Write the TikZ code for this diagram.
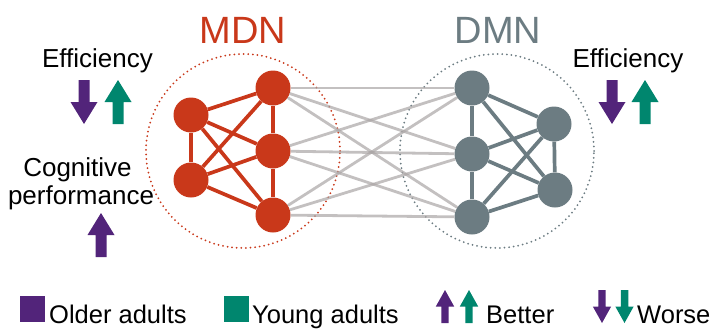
\documentclass[tikz,border=0pt]{standalone}
\usepackage{fontspec}
\setmainfont{Liberation Sans}
\usetikzlibrary{positioning}

\definecolor{mdnred}{RGB}{201,56,26}
\definecolor{dmngray}{RGB}{108,124,130}
\definecolor{oldpurple}{RGB}{82,36,122}
\definecolor{younggreen}{RGB}{0,134,110}
\definecolor{linkgray}{RGB}{170,165,165}

\tikzset{
  bigarrow/.pic={
    \fill (0,0) -- (13.5,22) -- (5.5,22) -- (5.5,44) -- (-5.5,44) -- (-5.5,22) -- (-13.5,22) -- cycle;
  }
}

\begin{document}
\begin{tikzpicture}[x=1pt,y=-1pt]
    \tikzstyle{region}=[circle,minimum size=35pt,inner sep=0pt]
    \tikzstyle{mdn node}=[region,fill=mdnred]
    \tikzstyle{dmn node}=[region,fill=dmngray]
    \tikzstyle{mdn edge}=[draw=mdnred,line width=3.7pt]
    \tikzstyle{dmn edge}=[draw=dmngray,line width=3.7pt]
    \tikzstyle{link}=[draw=linkgray,line width=2.8pt,draw opacity=0.7]
    \tikzstyle{hull}=[circle,minimum size=194pt,inner sep=0pt,line width=2pt,line cap=round,dash pattern=on 0pt off 4.6pt]
    \tikzstyle{annot}=[font=\fontsize{26}{29}\selectfont,inner sep=0pt,anchor=base]
    \tikzstyle{legend}=[font=\fontsize{25.5}{29}\selectfont,inner sep=0pt,anchor=base west]
    \tikzstyle{title}=[font=\fontsize{38}{40}\selectfont,inner sep=0pt,anchor=base]

    \useasboundingbox (0,0) rectangle (714,332);

    % Network outlines and titles
    \node[hull,draw=mdnred] (mdnhull) at (243,151) {};
    \node[hull,draw=dmngray] (dmnhull) at (497,151) {};
    \node[title,mdnred] (mdntitle) at (243,43.3) {MDN};
    \node[title,dmngray] (dmntitle) at (498,43.3) {DMN};

    % MDN nodes
    \foreach \name / \pos in {1/{(191,115)},2/{(273,88)},3/{(273,151)},4/{(191,180)},5/{(273,215)}}
        \node[mdn node] (m\name) at \pos {};

    % DMN nodes
    \foreach \name / \pos in {1/{(472,88)},2/{(472,154)},3/{(472,217)},4/{(554,124)},5/{(555,190)}}
        \node[dmn node] (d\name) at \pos {};

    % Connections inside each network
    \foreach \a / \b in {1/2,1/3,1/4,1/5,2/3,2/4,3/4,3/5,4/5}
        \path[mdn edge] (m\a) -- (m\b);
    \foreach \a / \b in {1/2,2/3,1/4,1/5,2/4,2/5,3/4,3/5,4/5}
        \path[dmn edge] (d\a) -- (d\b);

    % Connections between the networks
    \foreach \source in {2,3,5}
        \foreach \dest in {1,2,3}
            \path[link] (m\source) -- (d\dest);

    % Side annotations
    \node[annot] (effleft) at (97.5,67.5) {Efficiency};
    \pic[oldpurple,rotate=180] at (84,124) {bigarrow};
    \pic[younggreen] at (118,80) {bigarrow};
    \node[annot] (cog) at (77.5,176) {Cognitive};
    \node[annot] (perf) at (81,204) {performance};
    \pic[oldpurple] at (101,213) {bigarrow};
    \node[annot] (effright) at (628,67.5) {Efficiency};
    \pic[oldpurple,rotate=180] at (612,124) {bigarrow};
    \pic[younggreen] at (645,80) {bigarrow};

    % Legend
    \fill[oldpurple] (20,296) rectangle (45,322);
    \node[legend] (older) at (49,323) {Older adults};
    \fill[younggreen] (224,296) rectangle (249,322);
    \node[legend] (young) at (252,323) {Young adults};
    \pic[oldpurple,xscale=0.68,yscale=0.75] at (445,290) {bigarrow};
    \pic[younggreen,xscale=0.68,yscale=0.75] at (469,290) {bigarrow};
    \node[legend] (better) at (486,323) {Better};
    \pic[oldpurple,xscale=0.68,yscale=0.75,rotate=180] at (602,323) {bigarrow};
    \pic[younggreen,xscale=0.68,yscale=0.75,rotate=180] at (624.5,323) {bigarrow};
    \node[legend] (worse) at (637,323) {Worse};
\end{tikzpicture}
\end{document}
